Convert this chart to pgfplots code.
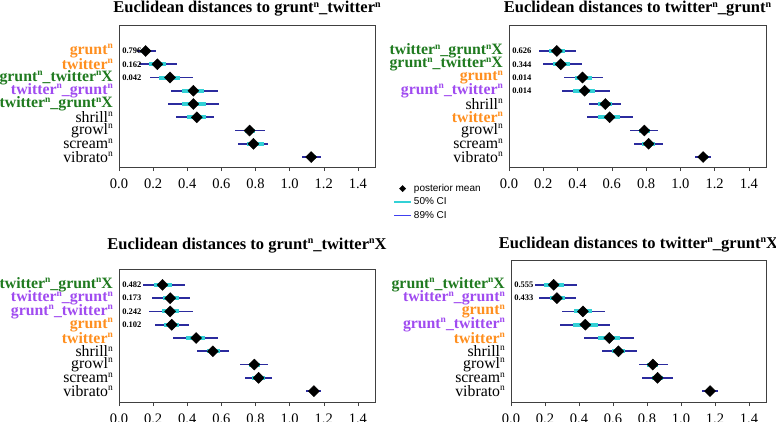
\documentclass[border=0pt]{standalone}
\usepackage{pgfplots}
\pgfplotsset{compat=1.18}
\usepackage{pgfplotstable}
\usepackage{fontspec}
\setmainfont{Liberation Serif}
\setsansfont{Liberation Sans}

\definecolor{corange}{HTML}{FF8F1F}
\definecolor{cgreen}{HTML}{1F7A1F}
\definecolor{cpurple}{HTML}{A04BF0}
\definecolor{cnavy}{HTML}{2B2B9E}
\definecolor{ccyan}{HTML}{33D1D6}
\definecolor{clegblue}{HTML}{4040F0}

\newcommand{\sn}{\raisebox{0.36em}{\scalebox{0.6}{n}}}
\newcommand{\lgr}{\textcolor{corange}{\textbf{grunt\sn}}}
\newcommand{\ltw}{\textcolor{corange}{\textbf{twitter\sn}}}
\newcommand{\lgt}{\textcolor{cpurple}{\textbf{grunt\sn\_twitter\sn}}}
\newcommand{\ltg}{\textcolor{cpurple}{\textbf{twitter\sn\_grunt\sn}}}
\newcommand{\lgtx}{\textcolor{cgreen}{\textbf{grunt\sn\_twitter\sn X}}}
\newcommand{\ltgx}{\textcolor{cgreen}{\textbf{twitter\sn\_grunt\sn X}}}

% columns: y, posterior mean, 89% CI low/high, 50% CI low/high
\pgfplotstableread{
y m l89 h89 l50 h50
9 0.156 0.104 0.217 0.130 0.180
8 0.225 0.119 0.338 0.178 0.274
7 0.299 0.182 0.432 0.237 0.358
6 0.436 0.305 0.583 0.368 0.499
5 0.436 0.289 0.587 0.368 0.510
4 0.456 0.334 0.559 0.400 0.510
3 0.765 0.680 0.856 0.739 0.798
2 0.788 0.700 0.872 0.750 0.847
1 1.126 1.072 1.183 1.100 1.154
}\TL
\pgfplotstableread{
y m l89 h89 l50 h50
9 0.279 0.177 0.392 0.236 0.328
8 0.302 0.201 0.425 0.255 0.357
7 0.429 0.322 0.548 0.386 0.483
6 0.441 0.310 0.587 0.376 0.503
5 0.562 0.464 0.655 0.522 0.600
4 0.587 0.454 0.723 0.522 0.649
3 0.790 0.708 0.870 0.756 0.825
2 0.815 0.727 0.899 0.776 0.854
1 1.133 1.088 1.180 1.107 1.160
}\TR
\pgfplotstableread{
y m l89 h89 l50 h50
9 0.255 0.143 0.388 0.206 0.309
8 0.300 0.196 0.417 0.260 0.349
7 0.300 0.178 0.431 0.250 0.354
6 0.309 0.211 0.409 0.264 0.354
5 0.452 0.319 0.578 0.394 0.505
4 0.550 0.456 0.644 0.515 0.589
3 0.793 0.707 0.871 0.760 0.828
2 0.818 0.736 0.897 0.779 0.858
1 1.142 1.098 1.181 1.118 1.165
}\BL
\pgfplotstableread{
y m l89 h89 l50 h50
9 0.251 0.139 0.388 0.196 0.309
8 0.270 0.166 0.382 0.227 0.319
7 0.423 0.300 0.550 0.368 0.476
6 0.437 0.290 0.583 0.364 0.509
5 0.578 0.427 0.726 0.509 0.642
4 0.632 0.535 0.740 0.593 0.672
3 0.834 0.750 0.922 0.799 0.867
2 0.862 0.773 0.952 0.828 0.897
1 1.171 1.122 1.220 1.147 1.194
}\BR

\tikzset{num/.style={anchor=west, inner sep=0pt, font=\bfseries\fontsize{8.5}{8.5}\selectfont}}

\pgfplotsset{
  panel/.style={
    scale only axis, anchor=south west, clip=false,
    xmin=0, xmax=1.5,
    xtick={0,0.2,0.4,0.6,0.8,1.0,1.2,1.4},
    xticklabels={0.0,0.2,0.4,0.6,0.8,1.0,1.2,1.4},
    xtick pos=bottom, ytick pos=left,
    tick align=outside, major tick length=4pt,
    ytick={1,2,3,4,5,6,7,8,9},
    y tick style={draw=none},
    x tick style={draw=black!75, line width=0.6pt},
    axis line style={draw=black!75, line width=0.8pt},
    xticklabel style={font=\fontsize{14.5}{14.5}\selectfont, inner sep=0pt, yshift=-8pt},
    yticklabel style={font=\fontsize{15.8}{15.8}\selectfont, inner sep=0pt, xshift=-2pt},
    title style={at={(0.5,1)}, anchor=base, yshift=6pt, font=\bfseries\fontsize{16.5}{16.5}\selectfont},
  },
  ci89/.style={forget plot, only marks, mark=none,
    error bars/.cd, x dir=both, x explicit, error mark=none,
    error bar style={line width=1.8pt, color=cnavy}},
  ci50/.style={forget plot, only marks, mark=none,
    error bars/.cd, x dir=both, x explicit, error mark=none,
    error bar style={line width=4pt, color=ccyan}},
  pm/.style={forget plot, only marks, mark=square*, mark size=3.9pt,
    mark options={rotate=45, fill=black, draw=black}},
}

\newcommand{\panelplots}[1]{%
  \addplot[ci89] table[x=m, y=y, x error plus expr=\thisrow{h89}-\thisrow{m}, x error minus expr=\thisrow{m}-\thisrow{l89}] {#1};
  \addplot[ci50] table[x=m, y=y, x error plus expr=\thisrow{h50}-\thisrow{m}, x error minus expr=\thisrow{m}-\thisrow{l50}] {#1};
  \addplot[pm] table[x=m, y=y] {#1};
}

\begin{document}
\begin{tikzpicture}
\path[use as bounding box] (0,0) rectangle (776pt,421pt);

% top left
\begin{axis}[panel, at={(119pt,254pt)}, width=256pt, height=142pt,
  ymin=0.25, ymax=10.96,
  title={Euclidean distances to grunt\sn\_twitter\sn},
  yticklabels={vibrato\sn, scream\sn, growl\sn, shrill\sn, \ltgx, \ltg, \lgtx, \ltw, \lgr}]
\panelplots{\TL}
\node[num] at (axis cs:0.018,9) {0.796};
\node[num] at (axis cs:0.018,8) {0.162};
\node[num] at (axis cs:0.018,7) {0.042};
\end{axis}

% top right
\begin{axis}[panel, at={(509pt,254pt)}, width=257pt, height=142pt,
  ymin=0.25, ymax=10.96,
  title={Euclidean distances to twitter\sn\_grunt\sn},
  yticklabels={vibrato\sn, scream\sn, growl\sn, \ltw, shrill\sn, \lgt, \lgr, \lgtx, \ltgx},
  legend style={at={(-0.451,-0.106)}, anchor=north west, draw=none, fill=none,
    inner sep=0pt, row sep=1pt, font=\sffamily\fontsize{10}{10}\selectfont},
  legend cell align=left]
\panelplots{\TR}
\node[num] at (axis cs:0.018,9) {0.626};
\node[num] at (axis cs:0.018,8) {0.344};
\node[num] at (axis cs:0.018,7) {0.014};
\node[num] at (axis cs:0.018,6) {0.014};
\addlegendimage{only marks, mark=square*, mark size=2.2pt, mark options={rotate=45, fill=black, draw=black}}
\addlegendentry{posterior mean}
\addlegendimage{line width=1.6pt, draw=ccyan}
\addlegendentry{50\% CI}
\addlegendimage{legend image code/.code={\draw[line width=1.2pt, color=clegblue] (0cm,0cm) -- (0.6cm,0cm);}}
\addlegendentry{89\% CI}
\end{axis}

% bottom left
\begin{axis}[panel, at={(119pt,19pt)}, width=256pt, height=133pt,
  ymin=0.18, ymax=10.2,
  title style={yshift=8pt},
  title={Euclidean distances to grunt\sn\_twitter\sn X},
  yticklabels={vibrato\sn, scream\sn, growl\sn, shrill\sn, \ltw, \lgr, \lgt, \ltg, \ltgx}]
\panelplots{\BL}
\node[num] at (axis cs:0.018,9) {0.482};
\node[num] at (axis cs:0.018,8) {0.173};
\node[num] at (axis cs:0.018,7) {0.242};
\node[num] at (axis cs:0.018,6) {0.102};
\end{axis}

% bottom right
\begin{axis}[panel, at={(511pt,19pt)}, width=255pt, height=142pt,
  ymin=0.18, ymax=10.87,
  title={Euclidean distances to twitter\sn\_grunt\sn X},
  yticklabels={vibrato\sn, scream\sn, growl\sn, shrill\sn, \ltw, \lgt, \lgr, \ltg, \lgtx}]
\panelplots{\BR}
\node[num] at (axis cs:0.018,9) {0.555};
\node[num] at (axis cs:0.018,8) {0.433};
\end{axis}
\end{tikzpicture}
\end{document}
